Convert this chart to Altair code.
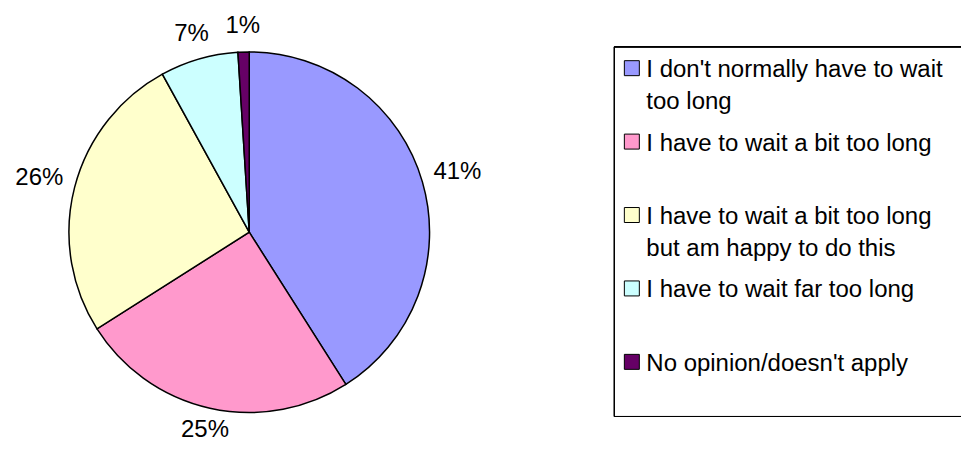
import altair as alt
import pandas as pd

categories = [
    "I don't normally have to wait\ntoo long",
    "I have to wait a bit too long",
    "I have to wait a bit too long\nbut am happy to do this",
    "I  have to wait far too long",
    "No opinion/doesn't apply",
]
values = [41, 25, 26, 7, 1]
labels = ["41%", "25%", "26%", "7%", "1%"]
colors = ["#9999FF", "#FF99CC", "#FFFFCC", "#CCFFFF", "#660066"]

df = pd.DataFrame({
    "category": categories,
    "value": values,
    "label": labels,
    "idx": list(range(len(categories))),
})

color = alt.Color("category:N", scale=alt.Scale(domain=categories, range=colors), legend=None)
FONT = "Liberation Sans"
CX, CY = 241.5, 224.2

base = alt.Chart(df).encode(
    theta=alt.Theta("value:Q", stack=True),
    order=alt.Order("idx:Q"),
)

arcs = base.mark_arc(outerRadius=180.5, stroke="black", strokeWidth=1.5).encode(
    color=color, x=alt.value(CX), y=alt.value(CY)
)

lab = alt.Chart(df).transform_window(
    cum="sum(value)", sort=[alt.SortField("idx")]
).transform_joinaggregate(
    total="sum(value)"
).transform_calculate(
    mid="(datum.cum - datum.value / 2) / datum.total * 2 * PI"
)


def pct_layer(cond, radius):
    return lab.transform_filter(cond).mark_text(
        radius=radius, fontSize=24, font=FONT, color="black"
    ).encode(
        theta=alt.Theta("mid:Q", scale=None),
        text="label:N", x=alt.value(CX), y=alt.value(CY)
    )


pct_top = pct_layer("cos(datum.mid) > 0.7", 207)
pct_side = pct_layer("abs(cos(datum.mid)) <= 0.7", 217)
pct_bottom = pct_layer("cos(datum.mid) < -0.7", 203)

yscale = alt.Scale(domain=[0, 4], range=[60, 354])

sq = alt.Chart(df).mark_square(size=225, stroke="black", strokeWidth=1, opacity=1).encode(
    x=alt.value(624.5),
    y=alt.Y("idx:Q", scale=yscale, axis=None),
    color=color,
)

legtext = alt.Chart(df).mark_text(
    align="left", baseline="top", dy=-10, fontSize=24, font=FONT, color="black",
    lineBreak="\n", lineHeight=32,
).encode(
    x=alt.value(639),
    y=alt.Y("idx:Q", scale=yscale, axis=None),
    text="category:N",
)

frame_top = alt.Chart(df).mark_rule(color="black", strokeWidth=1).encode(
    x=alt.value(607), x2=alt.value(954), y=alt.value(38.7)
)
frame_bottom = alt.Chart(df).mark_rule(color="black", strokeWidth=1).encode(
    x=alt.value(607), x2=alt.value(954), y=alt.value(408.7)
)
frame_left = alt.Chart(df).mark_rule(color="black", strokeWidth=1).encode(
    x=alt.value(607), y=alt.value(38.7), y2=alt.value(408.7)
)

chart = alt.layer(
    arcs, pct_top, pct_side, pct_bottom, sq, legtext, frame_top, frame_bottom, frame_left
).properties(
    width=954, height=432, padding=0
).configure_view(stroke=None)

chart.save("out.html", embed_options={"renderer": "svg", "actions": False})
